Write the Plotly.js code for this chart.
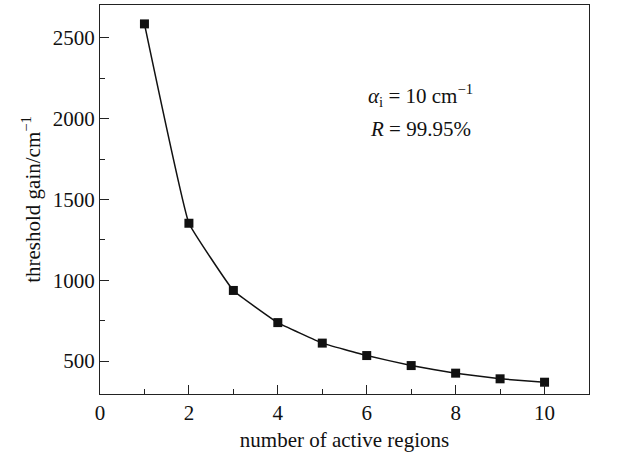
<!DOCTYPE html>
<html><head><meta charset="utf-8">
<script src="https://cdn.plot.ly/plotly-3.0.1.min.js"></script>
<style>body{margin:0;background:#fff}#c{width:635px;height:459px}</style>
</head><body><div id="c"></div>
<script>
const regions = [1, 2, 3, 4, 5, 6, 7, 8, 9, 10];
const thresholdGain = [2587, 1353, 937, 738, 611, 534, 472, 425, 390, 369];
const xTicks = [0, 2, 4, 6, 8, 10];
const yTicks = [500, 1000, 1500, 2000, 2500];

const font = {family: 'Liberation Serif, Times New Roman, serif', size: 21, color: '#111'};
const trace = {
  x: regions, y: thresholdGain, type: 'scatter', mode: 'lines+markers',
  line: {color: '#111', width: 1.5, shape: 'spline', smoothing: 0.25},
  marker: {symbol: 'square', size: 9, color: '#111'},
  showlegend: false
};
const axisBase = {
  showline: true, linecolor: '#222', linewidth: 1, mirror: true,
  ticks: 'inside', ticklen: 9, tickwidth: 1, tickcolor: '#222',
  showgrid: false, zeroline: false, tickfont: font
};
const layout = {
  width: 635, height: 459,
  margin: {l: 100, r: 46, t: 5, b: 65},
  paper_bgcolor: '#fff', plot_bgcolor: '#fff',
  font: font,
  xaxis: Object.assign({}, axisBase, {
    range: [0, 11], tickvals: xTicks, ticktext: xTicks.map(String),
    minor: {ticks: 'inside', ticklen: 5, dtick: 1, tick0: 0, tickcolor: '#222', tickwidth: 1},
    title: {text: 'number of active regions', font: font, standoff: 8}
  }),
  yaxis: Object.assign({}, axisBase, {
    range: [296, 2704], tickvals: yTicks, ticktext: yTicks.map(String),
    minor: {ticks: 'inside', ticklen: 5, dtick: 250, tick0: 0, tickcolor: '#222', tickwidth: 1},
    title: {text: 'threshold gain/cm<sup>−1</sup>', font: font, standoff: 6}
  }),
  annotations: [
    {xref: 'paper', yref: 'paper', x: 0.544, y: 0.768, xanchor: 'left', yanchor: 'middle', showarrow: false,
     text: '<i>α</i><sub>i</sub> = 10 cm<sup>−1</sup>', font: font},
    {xref: 'paper', yref: 'paper', x: 0.548, y: 0.68, xanchor: 'left', yanchor: 'middle', showarrow: false,
     text: '<i>R</i> = 99.95%', font: font}
  ]
};
Plotly.newPlot('c', [trace], layout, {displayModeBar: false, staticPlot: true});
</script></body></html>
